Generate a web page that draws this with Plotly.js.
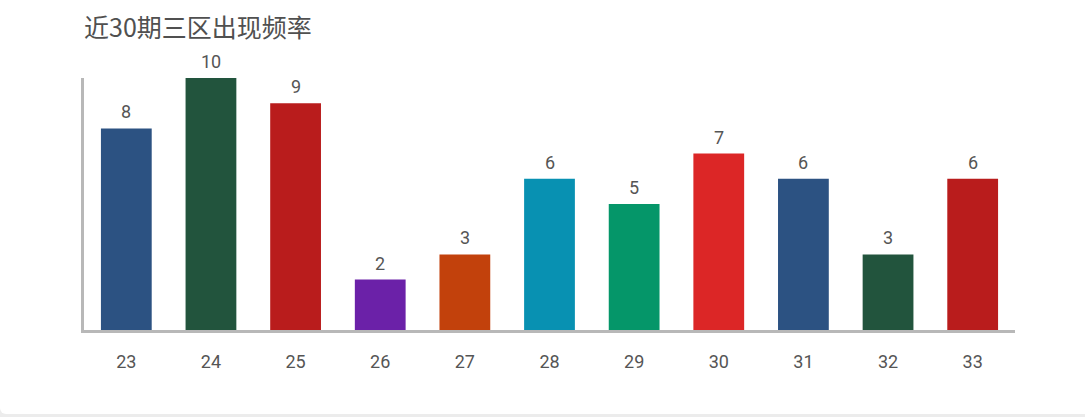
<!DOCTYPE html>
<html>
<head>
<meta charset="utf-8">
<script src="https://cdn.plot.ly/plotly-3.0.1.min.js"></script>
<style>
  html, body { margin: 0; padding: 0; background: #ececec; }
  #card { position: absolute; left: 0; top: 0; width: 1085px; height: 414px; background: #ffffff; border-bottom-left-radius: 6px; }
  #chart { width: 1085px; height: 414px; }
</style>
</head>
<body>
<div id="card"><div id="chart"></div></div>
<script>
const chartTitle = '近30期三区出现频率';
const categories = ['23', '24', '25', '26', '27', '28', '29', '30', '31', '32', '33'];
const counts = [8, 10, 9, 2, 3, 6, 5, 7, 6, 3, 6];
const barColors = ['#2c5282', '#22543d', '#b91c1c', '#6b21a8', '#c2410c', '#0891b2', '#059669', '#dc2626', '#2c5282', '#22543d', '#b91c1c'];

const trace = {
  type: 'bar',
  x: categories,
  y: counts,
  marker: { color: barColors, line: { width: 0 } },
  hoverinfo: 'x+y'
};

const annotations = categories.map((c, i) => ({
  x: i, y: counts[i], xref: 'x', yref: 'y',
  text: String(counts[i]), showarrow: false,
  yanchor: 'bottom', yshift: 4,
  font: { family: 'Roboto, sans-serif', size: 18, color: '#555555' }
}));

const layout = {
  width: 1085, height: 414,
  paper_bgcolor: 'rgba(0,0,0,0)', plot_bgcolor: 'rgba(0,0,0,0)',
  margin: { l: 84, r: 70, t: 78, b: 84, pad: 0 },
  bargap: 0.4,
  showlegend: false,
  title: {
    text: chartTitle, x: 0, xref: 'paper', xanchor: 'left', y: 1 - 28 / 414, yref: 'container', yanchor: 'middle',
    font: { family: '"Noto Sans CJK SC", sans-serif', size: 25, color: '#505050' }
  },
  xaxis: {
    type: 'category', range: [-0.5, categories.length - 0.5],
    showline: true, linecolor: '#b8b8b8', linewidth: 3,
    showgrid: false, zeroline: false,
    ticks: 'outside', ticklen: 13, tickcolor: 'rgba(0,0,0,0)',
    tickfont: { family: 'Roboto, sans-serif', size: 18, color: '#555555' }
  },
  yaxis: {
    range: [0, 10], showline: true, linecolor: '#b8b8b8', linewidth: 3,
    showgrid: false, zeroline: false, showticklabels: false, ticks: ''
  },
  annotations: annotations
};

Plotly.newPlot('chart', [trace], layout, { displayModeBar: false });
</script>
</body>
</html>
